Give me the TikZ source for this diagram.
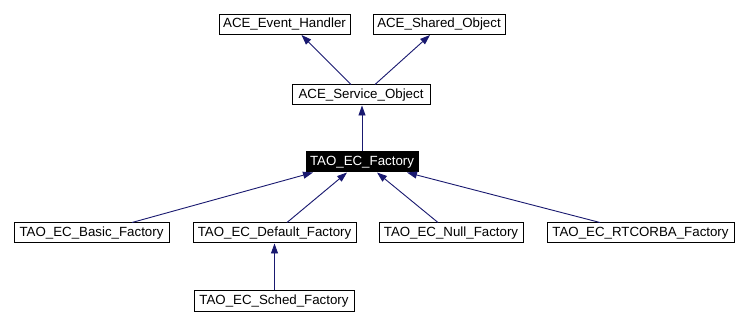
\documentclass[tikz,border=0pt]{standalone}
\usepackage{fontspec}
\setmainfont{Liberation Sans}
\usetikzlibrary{arrows.meta,calc}
\definecolor{edgeblue}{RGB}{25,25,112}
\begin{document}
\begin{tikzpicture}[x=1pt,y=-1pt,
  cls/.style={draw=black, line width=1pt, fill=white, inner sep=0pt,
    minimum height=20pt, font=\fontsize{13.3}{15}\selectfont},
  focus/.style={cls, fill=black, text=white},
  inherit/.style={draw=edgeblue, line width=0.9pt,
    -{Triangle[length=10pt,width=7pt]}, edgeblue}]
\useasboundingbox[fill=white] (0,0) rectangle (748,326);

% top-level base classes
\node[cls, minimum width=131pt] (eh) at (284.5,24.5) {ACE\_Event\_Handler};
\node[cls, minimum width=132pt] (so) at (439,24.5) {ACE\_Shared\_Object};
\node[cls, minimum width=138pt] (svo) at (361,95) {ACE\_Service\_Object};

% the factory interface
\node[focus, minimum width=112pt] (f) at (362,162) {TAO\_EC\_Factory};

% concrete factories
\node[cls, minimum width=155pt] (basic) at (91.5,233) {TAO\_EC\_Basic\_Factory};
\node[cls, minimum width=163pt] (default) at (274.5,233) {TAO\_EC\_Default\_Factory};
\node[cls, minimum width=144pt] (null) at (451,233) {TAO\_EC\_Null\_Factory};
\node[cls, minimum width=187pt] (rt) at (640.5,233) {TAO\_EC\_RTCORBA\_Factory};
\node[cls, minimum width=160pt] (sched) at (274,301) {TAO\_EC\_Sched\_Factory};

% inheritance edges
\draw[inherit] ($(svo.north)+(-10,0)$) -- ($(eh.south)+(17,0)$);
\draw[inherit] ($(svo.north)+(14,0)$) -- ($(so.south)+(-9,0)$);
\draw[inherit] (f.north) -- (f.north |- svo.south);
\draw[inherit] ($(basic.north)+(40.5,0)$) -- ($(f.south)+(-49,0)$);
\draw[inherit] ($(default.north)+(12.5,0)$) -- ($(f.south)+(-15,0)$);
\draw[inherit] ($(null.north)+(-13,0)$) -- ($(f.south)+(15,0)$);
\draw[inherit] ($(rt.north)+(-40.5,0)$) -- ($(f.south)+(45,0)$);
\draw[inherit] (sched.north -| default.south) -- (default.south);
\end{tikzpicture}
\end{document}
